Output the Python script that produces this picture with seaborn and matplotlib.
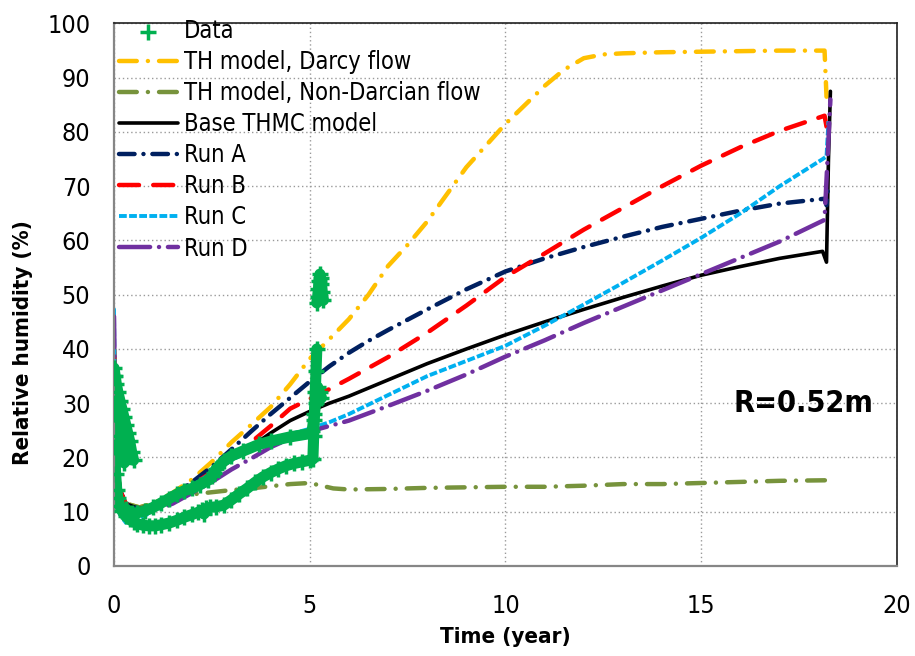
import matplotlib
matplotlib.use('Agg')
import matplotlib.pyplot as plt
import seaborn as sns
import pandas as pd

# values (time in years, RH in %)
darcy_t = [0.0, 0.05, 0.15, 0.3, 0.65, 1.0, 1.5, 2.0, 2.5, 3.0, 3.5, 4.0, 4.5, 5.0, 5.5, 6.0, 6.5,
           7.0, 7.5, 8.0, 8.5, 9.0, 9.5, 10.0, 10.5, 11.0, 11.5, 12.0, 12.5, 13.0, 14.0, 15.0, 16.0,
           17.0, 18.15, 18.2]
darcy_rh = [40, 20, 14, 11.5, 10.8, 11.5, 13.5, 16, 19.2, 22.8, 26, 29.3, 33.5, 38.2, 41.8, 45.5, 50,
            55.3, 59.2, 63.5, 68.5, 73.5, 77.5, 81.5, 85, 88.5, 91.5, 93.6, 94.3, 94.5, 94.7, 94.8, 94.9,
            95, 95, 86.5]

nondarcy_t = [0.0, 0.05, 0.15, 0.3, 0.65, 1.0, 1.5, 2.0, 2.5, 3.0, 3.5, 4.0, 4.5, 5.0, 5.3, 5.6, 6.0,
              7.0, 8.0, 9.0, 10.0, 11.0, 12.0, 13.0, 14.0, 15.0, 16.0, 17.0, 18.2]
nondarcy_rh = [40, 20, 14, 11.5, 10.8, 11.5, 12.5, 13.2, 13.6, 14.0, 14.3, 14.7, 15.1, 15.3, 14.8, 14.3,
               14.1, 14.2, 14.4, 14.5, 14.6, 14.6, 14.8, 15.1, 15.1, 15.3, 15.5, 15.7, 15.8]

base_t = [0.0, 0.05, 0.15, 0.3, 0.65, 1.0, 1.5, 2.0, 2.5, 3.0, 3.5, 4.0, 4.5, 5.0, 5.5, 6.0, 7.0, 8.0,
          9.0, 10.0, 11.0, 12.0, 13.0, 14.0, 15.0, 16.0, 17.0, 18.1, 18.2, 18.25, 18.3]
base_rh = [40, 20, 14, 11.5, 10.5, 11, 12.5, 14.8, 17, 19.5, 22, 24.5, 26.8, 28.5, 30, 31.3, 34.3, 37.3,
           40, 42.6, 45, 47.3, 49.5, 51.6, 53.6, 55.2, 56.7, 58, 56, 75, 87.5]

runa_t = [0.0, 0.05, 0.15, 0.3, 0.65, 1.0, 1.5, 2.0, 2.5, 3.0, 3.5, 4.0, 4.5, 5.0, 5.5, 6.0, 6.5, 7.0,
          8.0, 9.0, 10.0, 11.0, 12.0, 13.0, 14.0, 15.0, 16.0, 17.0, 18.15, 18.2, 18.25]
runa_rh = [40, 20, 14, 11.5, 10.5, 11.2, 13, 15.5, 18.3, 21.5, 24.8, 28, 31, 34, 36.8, 39.3, 41.5, 43.5,
           47.3, 51, 54.3, 56.7, 58.8, 60.7, 62.5, 64, 65.5, 66.8, 67.7, 66.5, 70.5]

runb_t = [0.0, 0.05, 0.15, 0.3, 0.65, 1.0, 1.5, 2.0, 2.5, 3.0, 3.5, 4.0, 4.5, 5.0, 5.5, 6.0, 7.0, 8.0,
          9.0, 10.0, 11.0, 12.0, 13.0, 14.0, 15.0, 16.0, 17.0, 18.15, 18.2]
runb_rh = [40, 20, 14, 11.5, 10.5, 11.2, 12.8, 15, 17.3, 20, 22.8, 25.8, 29, 30.8, 32.6, 34.5, 38.5, 43,
           48, 53.3, 57.6, 62, 66, 70, 73.8, 77.2, 80.2, 83, 81]

runc_t = [0.0, 0.02, 0.05, 0.15, 0.3, 0.5, 0.8, 1.0, 1.5, 2.0, 2.5, 3.0, 3.5, 4.0, 4.5, 5.0, 5.5, 6.0,
          7.0, 8.0, 9.0, 10.0, 11.0, 12.0, 13.0, 14.0, 15.0, 16.0, 17.0, 18.1, 18.2, 18.25]
runc_rh = [47.5, 30, 14, 9.5, 8, 8.3, 9.3, 10.2, 12.5, 14.8, 17.2, 19.5, 21.4, 23, 24.3, 25.3, 26.5, 28,
           31.5, 35, 37.8, 40.6, 44.3, 48.2, 52.2, 56.3, 60.5, 65, 70, 75, 75.5, 82]

rund_t = [0.0, 0.02, 0.05, 0.15, 0.3, 0.5, 0.8, 1.0, 1.5, 2.0, 2.5, 3.0, 3.5, 4.0, 4.5, 5.0, 5.5, 6.0,
          7.0, 8.0, 9.0, 10.0, 11.0, 12.0, 13.0, 14.0, 15.0, 16.0, 17.0, 18.15, 18.3]
rund_rh = [46, 35, 15, 11, 9.5, 9.2, 9.6, 10.2, 11.5, 13.5, 15.5, 17.8, 19.8, 21.9, 23.5, 24.8, 25.8, 26.8,
           29.5, 32.3, 35.3, 38.6, 41.6, 44.8, 47.8, 50.8, 53.8, 56.8, 59.8, 63.8, 86]

# measured data: sensor traces + a burst near 5.3 years
data1_t = [0.0, 0.03, 0.06, 0.1, 0.15, 0.2, 0.25, 0.3, 0.35, 0.4, 0.45, 0.5]
data1_rh = [36.5, 35, 33.5, 32, 30.5, 29, 27.5, 26, 24.5, 23, 21, 19.5]

data1b_t = [0.02, 0.08, 0.14, 0.2, 0.26]
data1b_rh = [30, 27, 24, 21.5, 19]

data2_t = [0.0, 0.01, 0.02, 0.04, 0.07, 0.1, 0.15, 0.2, 0.3, 0.4, 0.5, 0.6, 0.75, 0.9, 1.05, 1.2, 1.4,
           1.6, 1.8, 2.0, 2.15, 2.25, 2.3, 2.35, 2.45, 2.6, 2.8, 3.0, 3.2, 3.4, 3.6, 3.8, 4.0, 4.2, 4.4,
           4.6, 4.8, 5.0, 5.08, 5.1, 5.12, 5.14, 5.16, 5.18]
data2_rh = [35, 28, 22, 17, 14, 12.5, 11, 10.2, 9.2, 8.6, 8.1, 7.8, 7.5, 7.4, 7.4, 7.6, 7.9,
            8.4, 9.0, 9.5, 9.9, 10.3, 9.6, 10.6, 10.8, 10.9, 11.2, 12.2, 13.3, 14.3, 15.4, 16.4, 17.2, 17.9, 18.5,
            18.9, 19.2, 19.5, 19.7, 24, 28, 32, 36, 40]

data3_t = [0.3, 0.45, 0.6, 0.8, 1.0, 1.2, 1.4, 1.6, 1.8, 2.0, 2.2, 2.4, 2.5, 2.55, 2.6, 2.8, 3.0, 3.3,
           3.7, 4.0, 4.5, 5.0, 5.06, 5.1, 5.15, 5.2, 5.25, 5.3]
data3_rh = [10.5, 9.8, 9.8, 10.2, 10.8, 11.6, 12.4, 13.2, 13.9, 14.3, 15, 15.8, 16.5, 17.2, 17.8, 19.3, 20.3, 21.2,
            22.4, 23, 23.8, 24.4, 24.8, 27, 30, 33, 32, 31]

burst_t = [5.18, 5.2, 5.22, 5.24, 5.26, 5.28, 5.3, 5.32, 5.35]
burst_rh = [48.5, 49.5, 51, 52.5, 53.8, 53, 52, 50.5, 49]

sns.set_style('white')
plt.rcParams['font.family'] = ['DejaVu Sans']
plt.rcParams['font.stretch'] = 'condensed'
plt.rcParams['text.color'] = 'black'
plt.rcParams['axes.labelcolor'] = 'black'

fig = plt.figure(figsize=(9.15, 6.56), dpi=100)
ax = fig.add_axes([0.1246, 0.1372, 0.8557, 0.827])


def draw_curve(t, rh, label, color, lw, dashes=None, cap='round'):
    df = pd.DataFrame({'t': t, 'rh': rh})
    sns.lineplot(data=df, x='t', y='rh', ax=ax, color=color, linewidth=lw, sort=False,
                 estimator=None, label=label)
    line = ax.lines[-1]
    if dashes is not None:
        line.set_dashes(dashes)
    line.set_dash_capstyle(cap)
    line.set_solid_capstyle(cap)
    line.set_solid_joinstyle('round')


draw_curve(darcy_t, darcy_rh, 'TH model, Darcy flow', '#FFC000', 3.2, (4, 2.5, 0.01, 2.5))
draw_curve(nondarcy_t, nondarcy_rh, 'TH model, Non-Darcian flow', '#77933C', 3.2, (4, 2.5, 0.01, 2.5))
draw_curve(base_t, base_rh, 'Base THMC model', 'black', 2.6)
draw_curve(runa_t, runa_rh, 'Run A', '#002060', 3.2, (3.5, 2, 0.01, 2))
draw_curve(runb_t, runb_rh, 'Run B', '#FF0000', 3.2, (4.5, 3.2))
draw_curve(runc_t, runc_rh, 'Run C', '#00B0F0', 2.8, (2, 0.6), cap='butt')
draw_curve(rund_t, rund_rh, 'Run D', '#7030A0', 3.2, (7, 2, 0.01, 2))

green = '#00B050'
traces = [(data1_t, data1_rh), (data1b_t, data1b_rh), (data2_t, data2_rh),
          (data3_t, data3_rh), (burst_t, burst_rh)]
for tt, vv in traces:
    sns.lineplot(x=tt, y=vv, ax=ax, color=green, linewidth=8, sort=False, estimator=None,
                 solid_capstyle='round')
all_t = sum([tt for tt, _ in traces], [])
all_rh = sum([vv for _, vv in traces], [])
sns.scatterplot(x=all_t, y=all_rh, ax=ax, marker='+', s=130, color=green, linewidth=2.5,
                label='Data', zorder=5)

ax.set_xlim(0, 20)
ax.set_ylim(0, 100)
ax.set_xticks([0, 5, 10, 15, 20])
ax.set_yticks(range(0, 101, 10))
ax.grid(True, linestyle=(0, (1, 2)), color='#9a9a9a', linewidth=1)
ax.set_axisbelow(True)
for side in ['left', 'bottom']:
    ax.spines[side].set_color('#868686')
    ax.spines[side].set_linewidth(1.6)
for side in ['top', 'right']:
    ax.spines[side].set_color('#202020')
    ax.spines[side].set_linewidth(1.2)
ax.tick_params(axis='both', direction='out', length=6, width=1.5, color='#868686',
               labelsize=18, labelcolor='black')
ax.tick_params(axis='x', pad=14)
ax.tick_params(axis='y', pad=11)

ax.set_xlabel('Time (year)', fontsize=16, fontweight='bold', labelpad=7)
ax.set_ylabel('Relative humidity (%)', fontsize=16, fontweight='bold')
ax.yaxis.set_label_coords(-0.1034, 0.411)

ax.text(17.6, 30, 'R=0.52m', ha='center', va='center', fontsize=22, fontweight='bold')

handles, labels = ax.get_legend_handles_labels()
order = ['Data', 'TH model, Darcy flow', 'TH model, Non-Darcian flow', 'Base THMC model',
         'Run A', 'Run B', 'Run C', 'Run D']
lookup = dict(zip(labels, handles))
ax.legend([lookup[k] for k in order], order, loc='upper left', bbox_to_anchor=(0.0, 1.017),
          frameon=False, fontsize=17, handlelength=2.5, handletextpad=0.25, labelspacing=0.3,
          borderaxespad=0.1, borderpad=0.1)

fig.savefig('out.png', dpi=100)
